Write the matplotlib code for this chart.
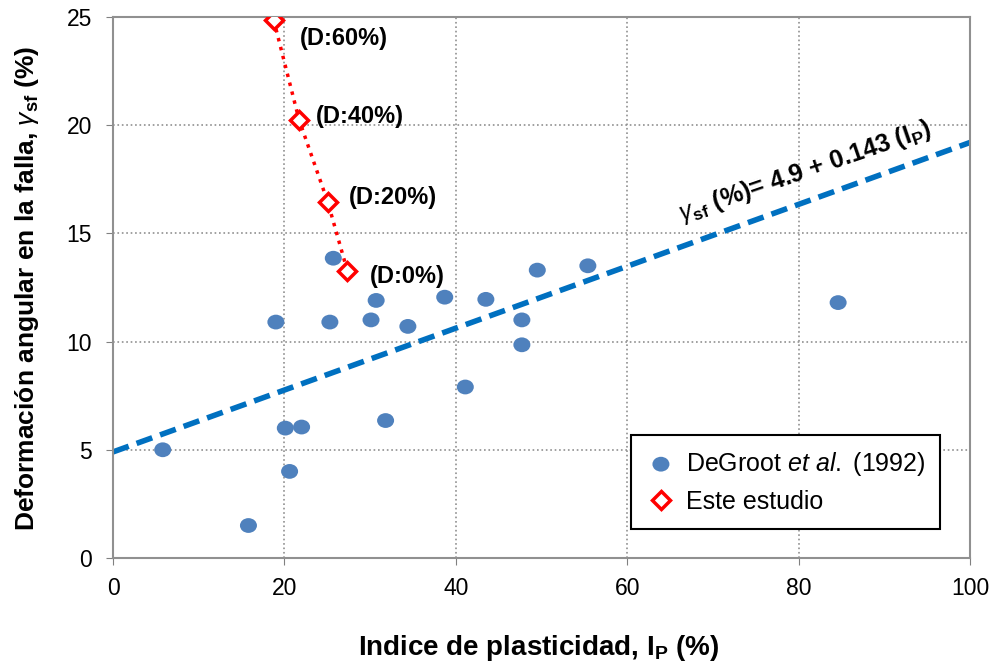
import numpy as np
import matplotlib.pyplot as plt
from matplotlib.path import Path
from matplotlib.transforms import Affine2D

plt.rcParams['font.family'] = ['Liberation Sans', 'DejaVu Sans']
plt.rcParams['mathtext.fontset'] = 'custom'
plt.rcParams['mathtext.rm'] = 'Liberation Sans'
plt.rcParams['mathtext.it'] = 'Liberation Sans:italic'
plt.rcParams['mathtext.bf'] = 'Liberation Sans:bold'

# DeGroot et al. (1992)
degroot_ip = [5.8, 15.8, 19.0, 20.1, 20.6, 22.0, 25.7, 25.3, 30.1, 30.7,
              31.8, 34.4, 38.7, 41.1, 43.5, 47.7, 47.7, 49.5, 55.4, 84.6]
degroot_gamma = [5.0, 1.5, 10.9, 6.0, 4.0, 6.05, 13.85, 10.9, 11.0, 11.9,
                 6.35, 10.7, 12.05, 7.9, 11.95, 11.0, 9.85, 13.3, 13.5, 11.8]

# Este estudio
estudio_ip = [18.75, 21.7, 25.05, 27.35]
estudio_gamma = [24.85, 20.25, 16.45, 13.25]
estudio_labels = ['(D:60%)', '(D:40%)', '(D:20%)', '(D:0%)']

# Tendencia: gamma_sf = 4.9 + 0.143 IP
trend_ip = [0, 100]
trend_gamma = [4.9, 19.2]

fig = plt.figure(figsize=(9.95, 6.68), dpi=100)
ax = fig.add_axes([0.1136, 0.1647, 0.8614, 0.81])

# slightly wide ellipse, like the stretched original
ellipse = Path.unit_circle().transformed(Affine2D().scale(1.15, 1.0))

ax.plot(trend_ip, trend_gamma, color='#0070C0', lw=4, dashes=(3, 1.5), zorder=2)
ax.scatter(degroot_ip, degroot_gamma, marker=ellipse, s=150, color='#4F81BD',
           edgecolors='none', zorder=3, label=r'DeGroot $\mathit{et\ al.}$ (1992)')
ax.plot(estudio_ip, estudio_gamma, color='red', lw=2.5, ls=':', zorder=4)
ax.plot(estudio_ip, estudio_gamma, ls='none', marker='D', ms=9, mfc='white',
        mec='red', mew=2.5, zorder=5, label='Este estudio')

offsets = [(19, -13), (12, 2), (15, 3), (16, -4)]
for x, y, lab, off in zip(estudio_ip, estudio_gamma, estudio_labels, offsets):
    ax.annotate(lab, (x, y), xytext=off, textcoords='offset points',
                fontsize=17, fontweight='bold', va='center', ha='left')

ax.text(80.8, 17.85, r'$\gamma_{\mathbf{sf}}$ $\mathbf{(\%)}$= 4.9 + 0.143 (I$_\mathbf{P}$)',
        rotation=19, fontsize=18, fontweight='bold', ha='center', va='center')

ax.set_xlim(0, 100)
ax.set_ylim(0, 25)
ax.set_xticks(np.arange(0, 101, 20))
ax.set_yticks(np.arange(0, 26, 5))
ax.tick_params(labelsize=16.5, direction='out', length=5, color='#808080')
ax.tick_params(axis='y', pad=10)
ax.tick_params(axis='x', pad=9)
ax.grid(True, color='#909090', ls=':', lw=1.2)
for s in ax.spines.values():
    s.set_color('#909090')
    s.set_linewidth(1.5)

ax.set_xlabel(r'Indice de plasticidad, I$_\mathbf{P}$ (%)', fontsize=20,
              fontweight='bold')
ax.xaxis.set_label_coords(0.497, -0.138)
ax.set_ylabel(r'Deformación angular en la falla, $\gamma_{\mathbf{sf}}$ (%)', fontsize=19,
              fontweight='bold')
ax.yaxis.set_label_coords(-0.084, 0.498)

leg = ax.legend(loc='lower right', bbox_to_anchor=(0.98, 0.03), fontsize=18,
                frameon=True, fancybox=False, edgecolor='black', framealpha=1,
                handletextpad=0.4, borderpad=0.6, labelspacing=0.5, handlelength=1.2)
leg.get_frame().set_linewidth(1.5)

fig.savefig('out.png', dpi=100)
